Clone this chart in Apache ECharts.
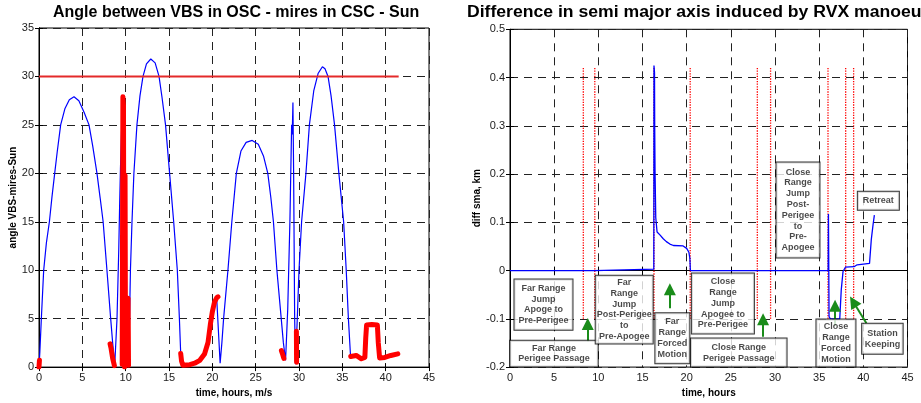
<!DOCTYPE html>
<html>
<head>
<meta charset="utf-8">
<script src="https://cdn.jsdelivr.net/npm/echarts@6/dist/echarts.min.js"></script>
<style>
  html, body { margin: 0; padding: 0; background: #fff; }
  #chart { width: 921px; height: 403px; }
</style>
</head>
<body>
<div id="chart"></div>
<script>
// ---- Angle between VBS (OSC) and mires (CSC) w.r.t. Sun, degrees vs hours ----
const timeTicks = ['0', '5', '10', '15', '20', '25', '30', '35', '40', '45'];
const angleTicks = ['0', '5', '10', '15', '20', '25', '30', '35'];
const smaTicks = ['-0.2', '-0.1', '0', '0.1', '0.2', '0.3', '0.4', '0.5'];

const angleTrace = [
  [0, 0], [0.1, 1.6], [0.27, 5], [0.54, 10], [0.85, 12.8], [1.2, 15], [1.5, 17.6], [1.81, 20],
  [2.1, 22.2], [2.5, 25], [3.0, 26.7], [3.5, 27.6], [4.04, 27.9], [4.6, 27.5], [5.2, 26.3],
  [5.77, 25], [6.2, 22.8], [6.69, 20], [7.05, 17.5], [7.4, 15], [7.84, 10], [8.27, 5],
  [8.5, 2.5], [8.73, 0.1], [9.0, 5], [9.2, 12], [9.31, 17], [9.4, 20.5], [9.55, 25],
  [9.68, 27.9], [9.75, 27], [9.8, 3], [9.88, 0], [9.93, 19.8], [9.98, 2], [10.1, 0.2],
  [10.28, 7.1], [10.35, 0.3], [10.45, 5], [10.55, 10], [10.73, 15], [10.95, 20], [11.3, 25],
  [11.65, 28], [12.0, 30], [12.4, 31.3], [12.9, 31.8], [13.4, 31.4], [13.85, 30], [14.2, 27.8],
  [14.6, 25], [15.07, 20], [15.54, 15], [15.96, 10], [16.2, 5], [16.35, 1.4], [16.45, 0.6],
  [16.6, 0.2], [17.4, 0.25], [17.96, 0.4], [18.56, 0.7], [19.1, 1.36], [19.5, 2.54],
  [19.77, 4.4], [20.0, 5.7], [20.26, 6.74], [20.5, 7.15], [20.65, 7.25], [20.9, 0.4],
  [21.1, 2.5], [21.3, 5], [21.8, 10], [22.25, 15], [22.77, 20], [23.3, 22.3], [23.9, 23.2],
  [24.6, 23.4], [25.3, 23.0], [25.9, 21.8], [26.4, 20], [26.75, 17.5], [27.05, 15],
  [27.45, 10], [27.95, 5], [28.2, 2.5], [28.45, 0.7], [28.7, 6], [28.95, 15], [29.15, 25],
  [29.22, 24], [29.3, 27.3], [29.38, 20], [29.5, 5], [29.6, 0.3], [29.7, 0.5], [29.8, 5],
  [30.0, 10], [30.3, 15], [30.8, 20], [31.2, 25], [31.7, 28.5], [32.2, 30.3], [32.7, 31.0],
  [33.0, 30.8], [33.35, 30], [33.7, 28], [34.1, 25], [34.6, 20], [35.15, 15], [35.45, 10],
  [35.7, 5], [35.95, 1.1]
];

// angle during the manoeuvre arcs (null separates the arcs)
const manoeuvreAngle = [
  [0, 0], [0.05, 0.7], null,
  [8.2, 2.4], [8.3, 2.0], [8.5, 0.9], [8.7, 0.15], null,
  [9.6, 0.3], [9.68, 27.9], [9.75, 27], [9.8, 3], [9.88, 0], [9.93, 19.8], [9.98, 2],
  [10.1, 0.2], [10.28, 7.1], [10.33, 0.2], null,
  [16.35, 1.4], [16.45, 0.6], [16.6, 0.2], [17.4, 0.25], [17.96, 0.4], [18.56, 0.7],
  [19.1, 1.36], [19.5, 2.54], [19.77, 4.4], [20.0, 5.7], [20.26, 6.74], [20.5, 7.15],
  [20.65, 7.25], null,
  [27.97, 1.7], [28.12, 1.3], [28.25, 0.9], null,
  [29.7, 3.7], [29.72, 0.5], null,
  [35.97, 1.1], [36.6, 1.2], [37.2, 0.86], [37.6, 1.0], [37.7, 3.0], [37.8, 4.35],
  [38.4, 4.4], [39.04, 4.35], [39.15, 2.5], [39.3, 0.95], [39.9, 1.0], [40.6, 1.2],
  [41.4, 1.37]
];

const angleLimit = [[0, 30], [41.5, 30]];

// ---- Difference in semi major axis, km vs hours ----
const smaDiff = [
  [0, 0], [9.55, 0], [9.65, 0.003], [16.28, 0.003], [16.3, 0.425], [16.36, 0.41],
  [16.38, 0.3], [16.42, 0.205], [16.5, 0.11], [16.65, 0.08], [16.97, 0.074], [17.35, 0.066],
  [17.7, 0.06], [18.1, 0.055], [18.5, 0.052], [19.6, 0.051], [20.0, 0.046], [20.25, 0.038],
  [20.36, 0.026], [20.42, 0], [36.02, 0], [36.05, 0.117], [36.12, -0.095], [36.25, -0.1],
  [37.33, -0.1], [37.5, -0.04], [37.7, -0.002], [37.97, 0.007], [38.95, 0.008],
  [39.3, 0.012], [40.7, 0.015], [40.9, 0.064], [41.1, 0.095], [41.25, 0.115]
];

// manoeuvre boundaries (hours) and the sma span they are marked over
const phaseBounds = [8.3, 9.6, 16.3, 20.4, 28.0, 29.5, 36.0, 38.0, 38.9];
const phaseSpan = [-0.1, 0.42];

const phaseNotes = [
  { text: 'Far Range\nJump\nApoge to\nPre-Perigee', at: [3.79, -0.0704] },
  { text: 'Far Range\nPerigee Passage', at: [4.98, -0.172] },
  { text: 'Far\nRange\nJump\nPost-Perigee\nto\nPre-Apogee', at: [12.93, -0.0807] },
  { text: 'Far\nRange\nForced\nMotion', at: [18.38, -0.14] },
  { text: 'Close\nRange\nJump\nApogee to\nPre-Perigee', at: [24.1, -0.068] },
  { text: 'Close Range\nPerigee Passage', at: [25.9, -0.170] },
  { text: 'Close\nRange\nJump\nPost-\nPerigee\nto\nPre-\nApogee', at: [32.6, 0.1257] },
  { text: 'Retreat', at: [41.7, 0.1447] },
  { text: 'Close\nRange\nForced\nMotion', at: [36.9, -0.150] },
  { text: 'Station\nKeeping', at: [42.16, -0.1414] }
];
// [vertical, horizontal] inner margin of each note box
const notePadding = [[3.5, 4], [2, 8], [1.5, 1], [3.4, 2], [3, 6], [3.2, 12], [4.3, 5], [3.6, 5], [1.9, 4.5], [4.2, 2.5]];

const phaseArrows = [
  [[8.8, -0.147], [8.8, -0.1105]],
  [[18.1, -0.078], [18.1, -0.0385]],
  [[28.65, -0.137], [28.65, -0.1006]],
  [[36.8, -0.115], [36.8, -0.073]],
  [[40.35, -0.109], [38.85, -0.0644]]
];

const FONT = "'Liberation Sans', Arial, Helvetica, sans-serif";
const gridDash = [8, 6];

function tickFormatter(labels, first, step) {
  return function (v) {
    const i = Math.round((v - first) / step);
    return labels[i] !== undefined ? labels[i] : '';
  };
}

function mainX(gridIndex, name) {
  return {
    type: 'value', gridIndex, min: 0, max: 45, interval: 5,
    name, nameLocation: 'middle', nameGap: 16,
    nameTextStyle: { fontFamily: FONT, fontSize: 10, fontWeight: 'bold', color: '#000' },
    axisLine: { show: true, lineStyle: { color: '#000', width: 1 } },
    axisTick: { show: true, inside: true, length: 4, lineStyle: { color: '#000' } },
    axisLabel: { fontFamily: FONT, fontSize: 11, color: '#222', margin: 5,
      formatter: tickFormatter(timeTicks, 0, 5) },
    splitLine: { show: true, lineStyle: { color: '#222', width: 1, type: gridDash } }
  };
}
function mirrorX(gridIndex) {
  return {
    type: 'value', gridIndex, min: 0, max: 45, interval: 5, position: 'top',
    axisLine: { show: true, lineStyle: { color: '#000' } },
    axisTick: { show: true, inside: true, length: 4, lineStyle: { color: '#000' } },
    axisLabel: { show: false }, splitLine: { show: false }
  };
}
function mainY(gridIndex, min, max, interval, labels, name, nameGap) {
  return {
    type: 'value', gridIndex, min, max, interval,
    name, nameLocation: 'middle', nameGap,
    nameTextStyle: { fontFamily: FONT, fontSize: 10, fontWeight: 'bold', color: '#000' },
    axisLine: { show: true, lineStyle: { color: '#000', width: 1 } },
    axisTick: { show: true, inside: true, length: 4, lineStyle: { color: '#000' } },
    axisLabel: { fontFamily: FONT, fontSize: 11, color: '#222', margin: 5,
      formatter: tickFormatter(labels, min, interval) },
    splitLine: { show: true, lineStyle: { color: '#222', width: 1, type: gridDash } }
  };
}
function mirrorY(gridIndex, min, max, interval) {
  return {
    type: 'value', gridIndex, min, max, interval, position: 'right',
    axisLine: { show: true, lineStyle: { color: '#000' } },
    axisTick: { show: true, inside: true, length: 4, lineStyle: { color: '#000' } },
    axisLabel: { show: false }, splitLine: { show: false }
  };
}

// boundary markers as one dotted polyline broken by nulls
const boundaryLines = [];
phaseBounds.forEach(function (x) {
  boundaryLines.push([x, phaseSpan[0]], [x, phaseSpan[1]], null);
});

const noteData = phaseNotes.map(function (n, i) {
  const p = notePadding[i];
  return {
    value: n.at,
    label: { formatter: n.text, padding: [p[0], p[1], p[0], p[1]] }
  };
});

const chart = echarts.init(document.getElementById('chart'), null, { renderer: 'canvas' });
chart.setOption({
  animation: false,
  backgroundColor: '#fff',
  title: [
    { text: 'Angle between VBS in OSC - mires in CSC - Sun', left: 53, top: 5, padding: 0,
      textStyle: { fontFamily: FONT, fontSize: 16, fontWeight: 'bold', color: '#000' } }
  ],
  // the right-hand heading runs wider and is cut by the page edge
  graphic: [
    { type: 'text', x: 467, y: 5, scaleX: 1.1, z: 100,
      style: { text: 'Difference in semi major axis induced by RVX manoeuvres',
        fontFamily: FONT, fontSize: 16, fontWeight: 'bold', fill: '#000',
        verticalAlign: 'top', align: 'left' } }
  ],
  grid: [
    { left: 39, top: 28, width: 390, height: 345.5, show: true,
      borderColor: '#000', borderWidth: 1, backgroundColor: '#fff' },
    { left: 510, top: 29.3, width: 397.5, height: 338, show: true,
      borderColor: '#000', borderWidth: 1, backgroundColor: '#fff' }
  ],
  xAxis: [
    mainX(0, 'time, hours, m/s'),
    mainX(1, 'time, hours'),
    mirrorX(0),
    mirrorX(1)
  ],
  yAxis: [
    mainY(0, 0, 35, 5, angleTicks, 'angle VBS-mires-Sun', 16),
    mainY(1, -0.2, 0.5, 0.1, smaTicks, 'diff sma, km', 25),
    mirrorY(0, 0, 35, 5),
    mirrorY(1, -0.2, 0.5, 0.1)
  ],
  series: [
    {
      type: 'line', xAxisIndex: 0, yAxisIndex: 0, data: angleTrace,
      showSymbol: false, symbol: 'none', z: 3,
      lineStyle: { color: '#0000ff', width: 1.2 }
    },
    {
      type: 'line', xAxisIndex: 0, yAxisIndex: 0, data: angleLimit,
      showSymbol: false, symbol: 'none', z: 4,
      lineStyle: { color: '#e42a2a', width: 2 }
    },
    {
      type: 'line', xAxisIndex: 0, yAxisIndex: 0, data: manoeuvreAngle,
      showSymbol: false, symbol: 'none', connectNulls: false, z: 5,
      lineStyle: { color: '#ff0000', width: 5, cap: 'round', join: 'round' }
    },
    {
      type: 'line', xAxisIndex: 1, yAxisIndex: 1, data: boundaryLines,
      showSymbol: false, symbol: 'none', connectNulls: false, z: 3,
      lineStyle: { color: '#ff0000', width: 1.3, type: [1.3, 1.3] }
    },
    {
      type: 'line', xAxisIndex: 1, yAxisIndex: 1, data: smaDiff,
      showSymbol: false, symbol: 'none', z: 4,
      lineStyle: { color: '#0000ff', width: 1.3 }
    },
    {
      type: 'lines', coordinateSystem: 'cartesian2d', xAxisIndex: 1, yAxisIndex: 1, z: 5,
      symbol: ['none', 'triangle'], symbolSize: 12,
      lineStyle: { color: '#1a8c1a', width: 2, opacity: 1, curveness: 0 },
      data: phaseArrows.map(function (a) { return { coords: a }; })
    },
    {
      type: 'scatter', xAxisIndex: 1, yAxisIndex: 1, z: 10, symbolSize: 0, silent: true,
      clip: false,
      label: {
        show: true, position: 'inside', align: 'center', verticalAlign: 'middle',
        fontFamily: FONT, fontSize: 9, fontWeight: 'bold', color: '#1a1a1a',
        lineHeight: 10.8, backgroundColor: '#fff', borderColor: '#000', borderWidth: 1
      },
      data: noteData
    }
  ]
});
</script>
</body>
</html>
